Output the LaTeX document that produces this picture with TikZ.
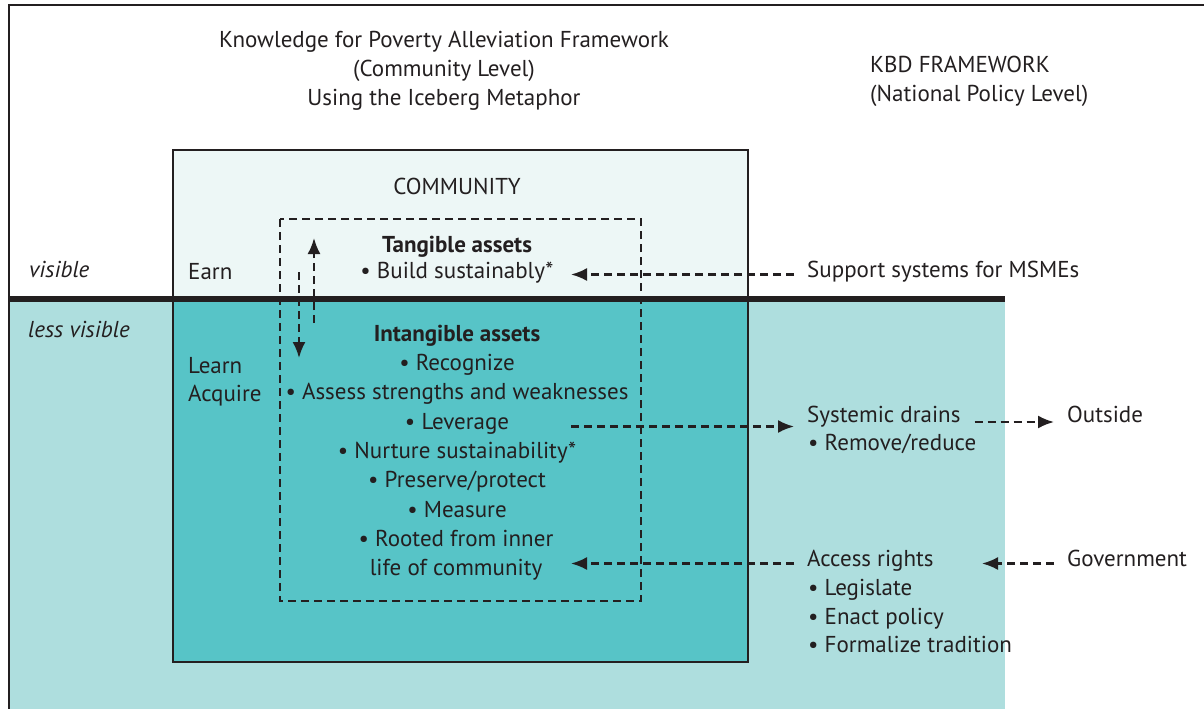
\documentclass[tikz,border=0pt]{standalone}
\usepackage{fontspec}
\setmainfont{PT Sans}
\usetikzlibrary{positioning,arrows.meta}

\definecolor{shallow}{RGB}{174,222,222}
\definecolor{icetop}{RGB}{237,247,246}
\definecolor{icebody}{RGB}{87,196,199}
\definecolor{ink}{RGB}{35,31,32}

\begin{document}
\begin{tikzpicture}[x=1pt, y=-1pt, color=ink, >={Latex[length=16pt,width=13pt]},
    font=\fontsize{23}{29}\selectfont]
  \tikzstyle{txt}=[inner sep=2pt, anchor=base]
  \tikzstyle{lbl}=[inner sep=2pt, anchor=base west]
  \tikzstyle{link}=[->, line width=2.2pt, dash pattern=on 8pt off 5pt]

  \useasboundingbox (0,0) rectangle (1204,709);

  % water, iceberg and waterline
  \fill[shallow] (9,299) rectangle (1005,709);
  \fill[icetop] (173,150) rectangle (748,299);
  \fill[icebody] (173,299) rectangle (748,662);
  \draw[line width=2.5pt] (173,150) rectangle (748,662);
  \draw[line width=5.5pt] (9,299) -- (1005,299);
  \draw[line width=2.2pt, dash pattern=on 8pt off 5pt] (280,219) rectangle (641,601);
  \draw[line width=2.5pt] (1204,5) -- (9,5) -- (9,709);

  % headings
  \node[txt] (title) at (444,48) {Knowledge for Poverty Alleviation Framework};
  \node[txt] (level) at (444,77) {(Community Level)};
  \node[txt] (metaphor) at (444,105) {Using the Iceberg Metaphor};
  \node[lbl] (kbd) at (868,72) {KBD FRAMEWORK};
  \node[lbl] (national) at (868,101) {(National Policy Level)};
  \node[txt] (community) at (457,194) {COMMUNITY};

  \node[lbl, font=\fontsize{23}{29}\selectfont\itshape] (visible) at (27,277) {visible};
  \node[lbl, font=\fontsize{23}{29}\selectfont\itshape] (lessvisible) at (26,337) {less visible};
  \node[lbl] (earn) at (186,279) {Earn};
  \node[lbl] (learn) at (186,373) {Learn};
  \node[lbl] (acquire) at (186,401) {Acquire};

  % assets inside the iceberg
  \node[txt, font=\fontsize{23}{29}\selectfont\bfseries] (tangible) at (457,252) {Tangible assets};
  \node[txt] (build) at (457,278) {• Build sustainably*};
  \node[txt, font=\fontsize{23}{29}\selectfont\bfseries] (intangible) at (457,341) {Intangible assets};
  \node[txt] (recognize) at (457,370) {• Recognize};
  \node[txt] (assess) at (457,399) {• Assess strengths and weaknesses};
  \node[txt] (leverage) at (457,429) {• Leverage};
  \node[txt] (nurture) at (457,458) {• Nurture sustainability*};
  \node[txt] (preserve) at (457,487) {• Preserve/protect};
  \node[txt] (measure) at (457,517) {• Measure};
  \node[txt, align=center] (rooted) at (456,575) {• Rooted from inner\\life of community};

  % national level
  \node[lbl] (support) at (805,277) {Support systems for MSMEs};
  \node[lbl] (systemic) at (805,422) {Systemic drains};
  \node[lbl] (remove) at (806,450) {• Remove/reduce};
  \node[lbl] (outside) at (1065,422) {Outside};
  \node[lbl] (access) at (805,566) {Access rights};
  \node[lbl] (legislate) at (806,595) {• Legislate};
  \node[lbl] (enact) at (806,624) {• Enact policy};
  \node[lbl] (formalize) at (806,652) {• Formalize tradition};
  \node[lbl] (gov) at (1065,566) {Government};

  \coordinate (inward) at (571,0);
  \coordinate (govedge) at (982,0);
  \coordinate (riseBot) at (314,323);
  \coordinate (riseTop) at (314,238);
  \coordinate (sinkTop) at (299,272);
  \coordinate (sinkBot) at (299,358);

  \draw[link] (riseBot) -- (riseTop);
  \draw[link] (sinkTop) -- (sinkBot);
  \draw[link, shorten <=11pt] (support.mid west) -- (support.mid west -| inward);
  \draw[link, shorten >=11pt] (leverage.mid -| inward) -- (leverage.mid -| systemic.west);
  \draw[link, shorten <=12pt, shorten >=11pt] (systemic.base east) -- (outside.base west);
  \draw[link, shorten <=11pt] (access.mid west) -- (access.mid west -| inward);
  \draw[link, shorten <=11pt] (gov.mid west) -- (gov.mid west -| govedge);
\end{tikzpicture}
\end{document}
